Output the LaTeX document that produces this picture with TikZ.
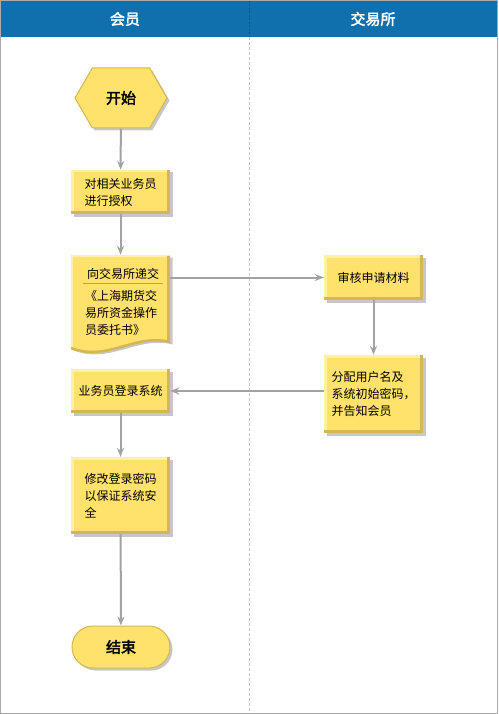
\documentclass[tikz,border=0pt]{standalone}
\usepackage{fontspec}
\setmainfont{Noto Sans CJK SC}
\newfontfamily\cjkbold[FakeBold=2.5]{Noto Sans CJK SC}
\usetikzlibrary{shapes.symbols,shapes.misc,shadows,arrows.meta}
\definecolor{hdr}{HTML}{1070AE}
\definecolor{hdrline}{HTML}{0B578C}
\definecolor{boxfill}{HTML}{FFE26C}
\definecolor{boxdark}{HTML}{D3B752}
\definecolor{boxlight}{HTML}{FFF0A6}
\definecolor{conn}{HTML}{A2A2A2}
\definecolor{frame}{HTML}{AAAAAA}
\definecolor{sepcol}{HTML}{BFA34C}
\tikzset{
  shadowed/.style={drop shadow={shadow xshift=2.5pt,shadow yshift=-2.5pt,fill=black,opacity=0.22}},
  bevel/.style={path picture={
    \fill[boxdark] (path picture bounding box.south west) rectangle ([yshift=3pt]path picture bounding box.south east);
    \fill[boxdark] ([xshift=-3pt]path picture bounding box.south east) rectangle (path picture bounding box.north east);
    \fill[boxlight] (path picture bounding box.north west) rectangle ([yshift=-2.5pt,xshift=-3pt]path picture bounding box.north east);
    \fill[boxlight] ([yshift=3pt]path picture bounding box.south west) rectangle ([xshift=2.5pt]path picture bounding box.north west);
  }},
  txt/.style={font=\fontsize{12}{17}\selectfont, align=left, inner sep=0pt},
  procbox/.style={rectangle, fill=boxfill, shadowed, bevel, minimum width=99pt, txt},
  termtxt/.style={font=\cjkbold\fontsize{15}{18}\selectfont},
  startshape/.style={signal, signal to=west and east, signal pointer angle=120, fill=boxfill, draw=boxdark, line width=1pt, shadowed, minimum width=92pt, minimum height=60pt, inner sep=0pt, termtxt},
  endshape/.style={rounded rectangle, fill=boxfill, draw=boxdark, line width=1pt, shadowed, minimum width=98pt, minimum height=42pt, inner sep=0pt, termtxt},
  arr/.style={draw=conn, line width=2pt, -{Stealth[length=9pt,width=7pt,inset=3pt]}},
  hdrtxt/.style={text=white, font=\cjkbold\fontsize{15}{18}\selectfont},
}
\begin{document}
\begin{tikzpicture}[x=1pt,y=-1pt]
\useasboundingbox (0,0) rectangle (498,714);
\fill[white] (0,0) rectangle (498,714);
% header
\fill[hdr] (1,1) rectangle (497,37.5);
\draw[hdrline, dash pattern=on 2pt off 1.5pt, line width=0.7pt] (249,1) -- (249,37.5);
\draw[gray!45, dash pattern=on 3pt off 2pt, line width=0.7pt] (249,37.5) -- (249,713);
\draw[frame, line width=1pt] (0.5,0.5) rectangle (497.5,713.5);
\node[hdrtxt] (h1) at (125,19) {会员};
\node[hdrtxt] (h2) at (373,19) {交易所};

% nodes
\node[startshape] (start) at (121,98) {开始};
\node[procbox, minimum height=44pt] (b1) at (120.5,192) {对相关业务员\\进行授权};

% document shape
\path[shadowed, fill=boxfill] (71,255) -- (170,255) -- (170,342) .. controls (135,333) and (108,362) .. (71,348) -- cycle;
\draw[boxlight, line width=2.5pt] (72,256) -- (169,256);
\draw[boxlight, line width=2.5pt] (72,256) -- (72,347);
\draw[boxdark, line width=2.5pt] (168.7,256) -- (168.7,342);
\draw[boxdark, line width=2.5pt] (170,342) .. controls (135,333) and (108,362) .. (71,348);
\node[rectangle, minimum width=99pt, minimum height=92pt, inner sep=0pt] (b2) at (120.5,301) {};
\node[txt] (b2a) at (123,274) {向交易所递交};
\draw[sepcol, line width=0.8pt] (83,283.5) -- (163,283.5);
\node[txt] (b2b) at (121,313) {《上海期货交\\易所资金操作\\员委托书》};

\node[procbox, minimum height=44pt, align=center] (b3) at (120.5,391) {业务员登录系统};
\node[procbox, minimum height=77pt] (b4) at (120.5,495.5) {修改登录密码\\以保证系统安\\全};
\node[endshape] (end) at (121,647) {结束};

\node[procbox, minimum height=45pt, align=center] (r1) at (373.5,277.5) {审核申请材料};
\node[procbox, minimum height=78pt] (r2) at (373.5,394) {分配用户名及\\系统初始密码，\\并告知会员};

% connectors
\draw[arr] (start) -- (b1);
\draw[arr] (b1) -- (b2);
\draw[arr] (r1.west -| b2.east) -- (r1.west);
\draw[arr] (r1) -- (r2);
\draw[arr] (r2.west |- b3.east) -- (b3.east);
\draw[arr] (b3) -- (b4);
\draw[arr] (b4) -- (end);
\end{tikzpicture}
\end{document}
